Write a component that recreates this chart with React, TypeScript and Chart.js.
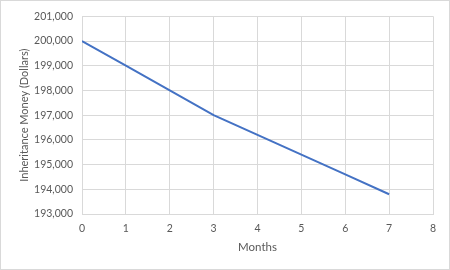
import React, { useEffect, useRef } from "react";
import { Chart, registerables } from "chart.js";

Chart.register(...registerables);

const months = [0, 1, 2, 3, 4, 5, 6, 7];
const money = [200000, 199000, 198000, 197000, 196200, 195400, 194600, 193800];
const xTitle = "Months";
const yTitle = "Inheritance Money (Dollars)";

export default function App() {
  const ref = useRef<HTMLCanvasElement | null>(null);
  useEffect(() => {
    document.body.style.margin = "0";
    const font = "Lato, 'Open Sans', sans-serif";
    const chart = new Chart(ref.current!, {
      type: "line",
      data: {
        datasets: [
          {
            data: months.map((m, i) => ({ x: m, y: money[i] })),
            borderColor: "#4472c4",
            backgroundColor: "#4472c4",
            borderWidth: 2,
            pointRadius: 0,
            tension: 0,
          },
        ],
      },
      options: {
        animation: false,
        responsive: false,
        maintainAspectRatio: false,
        layout: { padding: { top: 13, right: 16, left: 0, bottom: 0 } },
        plugins: { legend: { display: false }, tooltip: { enabled: false } },
        scales: {
          x: {
            type: "linear",
            min: 0,
            max: 8,
            ticks: { stepSize: 1, color: "#595959", font: { family: font, size: 10.5 }, padding: 8 },
            grid: { color: "#d9d9d9", drawTicks: false },
            border: { color: "#d9d9d9" },
            title: { display: true, text: xTitle, color: "#595959", font: { family: font, size: 11.5 }, padding: { top: 0, bottom: 15 } },
            afterFit: (s: any) => { s.height = 55; },
          },
          y: {
            min: 193000,
            max: 201000,
            ticks: {
              stepSize: 1000,
              color: "#595959",
              font: { family: font, size: 10.5 },
              padding: 9,
              callback: (v: any) => Number(v).toLocaleString("en-US"),
            },
            grid: { color: "#d9d9d9", drawTicks: false },
            border: { color: "#d9d9d9" },
            title: { display: true, text: yTitle, color: "#595959", font: { family: font, size: 11 }, padding: { top: 17, bottom: 0 } },
            afterFit: (s: any) => { s.width = 81; },
          },
        },
      },
    });
    return () => chart.destroy();
  }, []);
  return (
    <div style={{ position: "relative", width: 450, height: 270, boxSizing: "border-box", border: "1px solid #d9d9d9" }}>
      <canvas ref={ref} width={448} height={268} style={{ position: "absolute", left: 0, top: 0, width: 448, height: 268 }} />
    </div>
  );
}
